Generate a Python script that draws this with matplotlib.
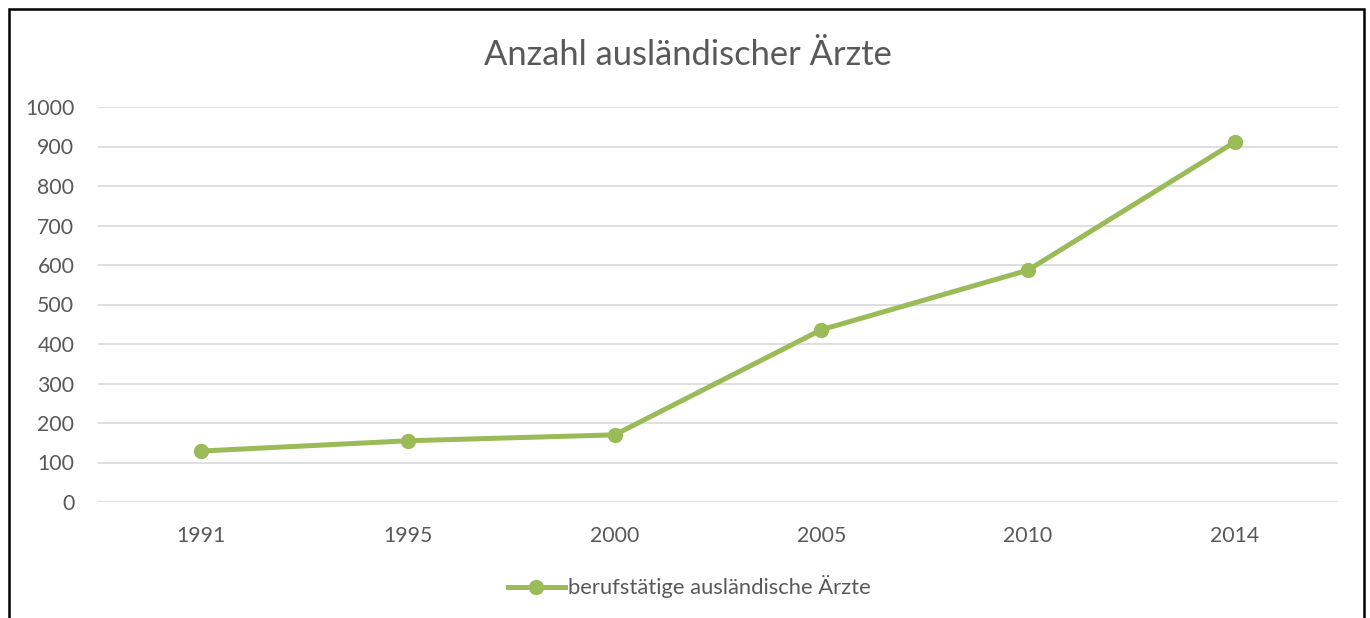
import matplotlib
matplotlib.use("Agg")
import matplotlib.pyplot as plt
from matplotlib.patches import Rectangle

years = ["1991", "1995", "2000", "2005", "2010", "2014"]
aerzte = [129, 155, 170, 436, 587, 911]
yticks = [0, 100, 200, 300, 400, 500, 600, 700, 800, 900, 1000]

green = "#9BBB59"
textc = "#595959"

plt.rcParams["font.family"] = ["Lato", "DejaVu Sans"]

fig = plt.figure(figsize=(13.7, 6.18), dpi=100)
ax = fig.add_axes([98 / 1370, 1 - 502 / 618, (1338 - 98) / 1370, (502 - 107) / 618])

x = list(range(len(years)))
ax.plot(x, aerzte, "-o", color=green, lw=3.6, ms=10,
        label="berufstätige ausländische Ärzte", zorder=3)

ax.set_xlim(-0.5, len(years) - 0.5)
ax.set_ylim(0, 1000)
ax.set_xticks(x)
ax.set_xticklabels(years)
ax.set_yticks(yticks)
ax.grid(axis="y", color="#D9D9D9", lw=1.2)
ax.set_axisbelow(True)
for s in ax.spines.values():
    s.set_visible(False)
ax.tick_params(length=0, labelsize=15.3, labelcolor=textc)
ax.tick_params(axis="y", pad=17)
ax.tick_params(axis="x", pad=17)

fig.text(0.502, 1 - 55 / 618, "Anzahl ausländischer Ärzte", ha="center", va="center",
         fontsize=24.8, color=textc)

fig.legend(loc="center", bbox_to_anchor=(0.503, 1 - 587 / 618), frameon=False,
           fontsize=15.8, labelcolor=textc, handlelength=2.6, handletextpad=0.15)

fig.patches.append(Rectangle((9 / 1370, -0.1), (1364 - 9) / 1370, 1.1 - 9 / 618,
                             transform=fig.transFigure, fill=False,
                             edgecolor="black", lw=1.8, clip_on=False))

fig.savefig("out.png", dpi=100)
